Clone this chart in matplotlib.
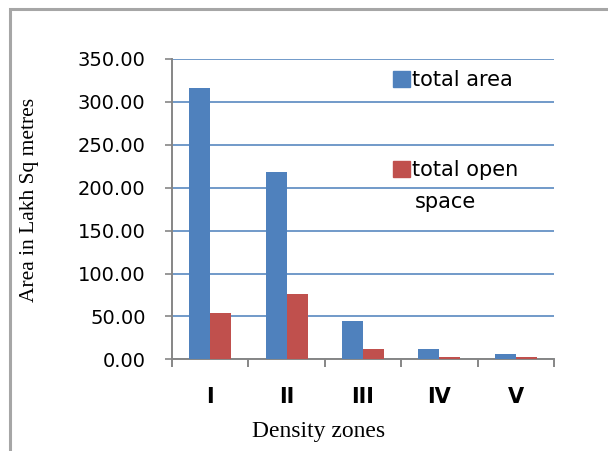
import matplotlib
matplotlib.use("Agg")
import matplotlib.pyplot as plt
from matplotlib.patches import Rectangle
import numpy as np

zones = ["I", "II", "III", "IV", "V"]
total_area = [316.0, 218.0, 45.0, 12.4, 5.8]
open_space = [54.5, 76.0, 12.4, 3.2, 3.2]

BLUE = "#4f81bd"
RED = "#c0504d"
GRID = "#4a7ebb"
AXIS = "#868686"
SANS = "DejaVu Sans"
SERIF = "Liberation Serif"

fig = plt.figure(figsize=(6.08, 4.51), dpi=100)
# outer chart frame (runs off the right and bottom edge, like the screenshot)
fig.patches.append(Rectangle((10 / 608, -0.1), 1.2, 1 - 9 / 451 + 0.1,
                             transform=fig.transFigure, fill=False,
                             edgecolor="#a6a6a6", linewidth=2.2))

ax = fig.add_axes([172 / 608, 1 - 359.3 / 451, 382 / 608, 300.3 / 451])

x = np.arange(len(zones))
w = 0.275
ax.bar(x - w / 2, total_area, w, color=BLUE, zorder=3)
ax.bar(x + w / 2, open_space, w, color=RED, zorder=3)

ax.set_xlim(-0.5, len(zones) - 0.5)
ax.set_ylim(0, 350)
ax.set_yticks(np.arange(0, 351, 50))
ax.set_yticklabels(["%.2f" % v for v in np.arange(0, 351, 50)],
                   fontfamily=SANS, fontsize=14)
ax.yaxis.grid(True, color=GRID, linewidth=1.1, zorder=0)
ax.tick_params(axis="y", length=5, width=1.2, color=AXIS, pad=14)

ax.set_xticks(np.arange(-0.5, len(zones)), labels=[])
ax.set_xticks(x, labels=zones, minor=True)
ax.tick_params(axis="x", which="major", length=6, width=1.4, color=AXIS)
ax.tick_params(axis="x", which="minor", length=0, pad=20)
for t in ax.get_xticklabels(minor=True):
    t.set_fontfamily(SANS)
    t.set_fontweight("bold")
    t.set_fontsize(15)

for s in ["top", "right"]:
    ax.spines[s].set_visible(False)
for s in ["left", "bottom"]:
    ax.spines[s].set_color(AXIS)
    ax.spines[s].set_linewidth(1.4)

fig.text(319 / 608, 1 - 432 / 451, "Density zones", ha="center", va="center",
         fontfamily=SERIF, fontsize=17)
fig.text(30 / 608, 1 - 200 / 451, "Area in Lakh Sq metres", rotation=90,
         ha="center", va="center", fontfamily=SERIF, fontsize=15.5)

h1 = Rectangle((0, 0), 1, 1, color=BLUE)
h2 = Rectangle((0, 0), 1, 1, color=RED)
leg = ax.legend([h1, h2], ["total area", "total open"], loc="upper left",
                bbox_to_anchor=(0.5785, 0.962), frameon=False,
                borderpad=0, borderaxespad=0,
                prop={"family": SANS, "size": 15}, handlelength=0.8,
                handleheight=0.8, handletextpad=0.12, labelspacing=3.35)
ax.text(0.636, 0.503, "space", transform=ax.transAxes, fontfamily=SANS,
        fontsize=15, va="baseline", ha="left")

fig.savefig("out.png", dpi=100)
